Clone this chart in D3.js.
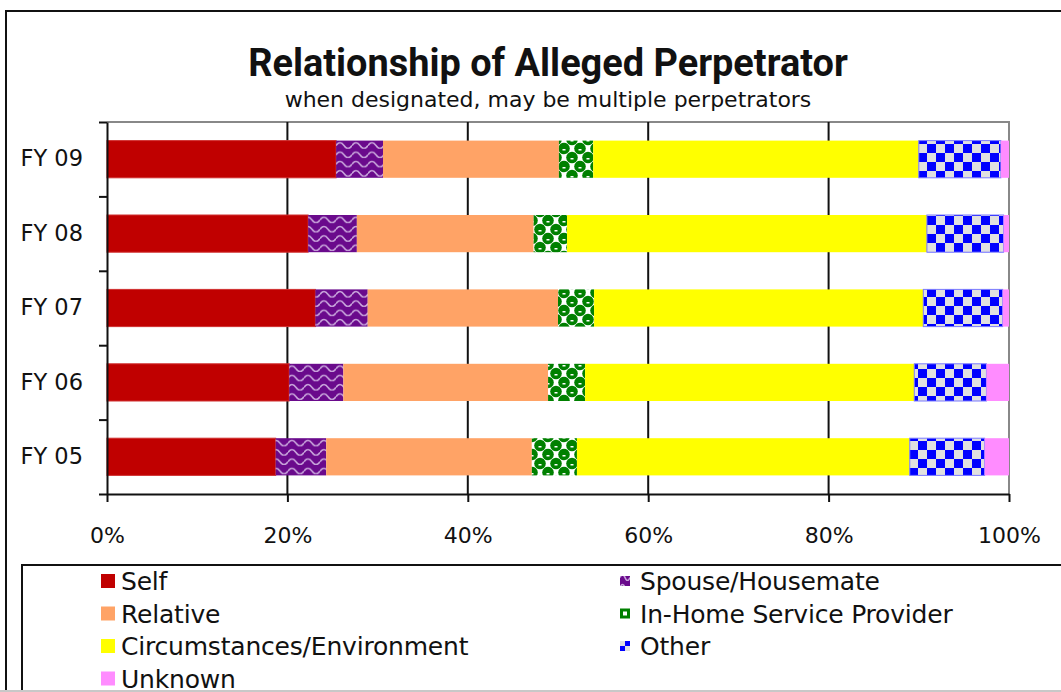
<!DOCTYPE html>
<html>
<head>
<meta charset="utf-8">
<script src="https://cdn.jsdelivr.net/npm/d3@7"></script>
<style>
  body { margin: 0; background: #fff; }
  svg { display: block; }
  text { font-family: "DejaVu Sans", sans-serif; fill: #111; }
</style>
</head>
<body>
<svg id="chart" width="1061" height="692"></svg>
<script>
'use strict';

// values in percent (top row first)
const YEARS = ['FY 09', 'FY 08', 'FY 07', 'FY 06', 'FY 05'];
const SELF = [25.4, 22.3, 23.1, 20.2, 18.7];
const SPOUSE = [5.2, 5.4, 5.8, 6.0, 5.6];
const RELATIVE = [19.5, 19.6, 21.1, 22.7, 22.8];
const IN_HOME = [3.8, 3.7, 4.0, 4.1, 5.0];
const CIRCUMSTANCES = [36.1, 39.9, 36.5, 36.5, 36.9];
const OTHER = [9.1, 8.5, 8.8, 8.0, 8.3];
const UNKNOWN = [0.9, 0.6, 0.7, 2.5, 2.7];
const SERIES = ['Self', 'Spouse/Housemate', 'Relative', 'In-Home Service Provider',
  'Circumstances/Environment', 'Other', 'Unknown'];
const X_TICKS = [0, 20, 40, 60, 80, 100];

const VALUES = [SELF, SPOUSE, RELATIVE, IN_HOME, CIRCUMSTANCES, OTHER, UNKNOWN];
const table = YEARS.map((year, i) => {
  const row = {year};
  SERIES.forEach((s, j) => row[s] = VALUES[j][i]);
  return row;
});

const svg = d3.select('#chart');
const defs = svg.append('defs');

// scale a text's font size so it spans the wanted width
function fitWidth(sel, width) {
  const size = parseFloat(sel.style('font-size'));
  const len = sel.node().getComputedTextLength();
  sel.style('font-size', (size * width / len) + 'px');
}

/***** PATTERNS *****/
function wavePattern(id, w, h) {
  const p = defs.append('pattern').attr('id', id).attr('patternUnits', 'userSpaceOnUse')
    .attr('width', w).attr('height', h);
  p.append('rect').attr('width', w).attr('height', h).attr('fill', '#6a0a8c');
  p.append('path')
    .attr('d', `M0,${h * 0.65} Q${w / 4},${h * 0.05} ${w / 2},${h * 0.65} T${w},${h * 0.65}`)
    .attr('fill', 'none').attr('stroke', '#c9a6dc').attr('stroke-width', 1.6);
}
function dotPattern(id) {
  const p = defs.append('pattern').attr('id', id).attr('patternUnits', 'userSpaceOnUse')
    .attr('width', 16).attr('height', 18);
  p.append('rect').attr('width', 16).attr('height', 18).attr('fill', '#fff');
  [[4, 4.5], [12, 13.5], [-4, 13.5], [20, 4.5], [4, 22.5], [12, -4.5]].forEach(([cx, cy]) => {
    p.append('circle').attr('cx', cx).attr('cy', cy).attr('r', 5.8).attr('fill', '#008000');
    p.append('rect').attr('x', cx - 1.5).attr('y', cy + 0.5).attr('width', 3).attr('height', 1.5)
      .attr('fill', '#fff');
  });
}
function checkPattern(id, s) {
  const p = defs.append('pattern').attr('id', id).attr('patternUnits', 'userSpaceOnUse')
    .attr('width', s * 2).attr('height', s * 2);
  p.append('rect').attr('width', s * 2).attr('height', s * 2).attr('fill', '#e0e0e0');
  p.append('rect').attr('x', s).attr('width', s).attr('height', s).attr('fill', '#0000ff');
  p.append('rect').attr('y', s).attr('width', s).attr('height', s).attr('fill', '#0000ff');
}
wavePattern('wave', 16, 9.3);
dotPattern('dots');
checkPattern('check', 9);

// small swatches for the legend
wavePattern('waveS', 10, 10);
const gs = defs.append('pattern').attr('id', 'dotsS').attr('patternUnits', 'objectBoundingBox')
  .attr('width', 1).attr('height', 1);
gs.append('rect').attr('width', 10).attr('height', 10).attr('fill', '#008000');
gs.append('rect').attr('x', 3).attr('y', 3).attr('width', 4).attr('height', 4).attr('fill', '#fff');
const cs = defs.append('pattern').attr('id', 'checkS').attr('patternUnits', 'objectBoundingBox')
  .attr('width', 1).attr('height', 1);
cs.append('rect').attr('width', 10).attr('height', 10).attr('fill', '#e0e0e0');
cs.append('rect').attr('x', 5).attr('width', 5).attr('height', 5).attr('fill', '#0000ff');
cs.append('rect').attr('y', 5).attr('width', 5).attr('height', 5).attr('fill', '#0000ff');

const FILLS = {
  'Self': '#c00000',
  'Spouse/Housemate': 'url(#wave)',
  'Relative': '#ffa366',
  'In-Home Service Provider': 'url(#dots)',
  'Circumstances/Environment': '#ffff00',
  'Other': 'url(#check)',
  'Unknown': '#ff8cff'
};
const SWATCH = Object.assign({}, FILLS, {
  'Spouse/Housemate': 'url(#waveS)',
  'In-Home Service Provider': 'url(#dotsS)',
  'Other': 'url(#checkS)'
});

/***** FRAME *****/
svg.append('rect').attr('x', 6).attr('y', 11).attr('width', 1100).attr('height', 700)
  .attr('fill', '#fff').attr('stroke', '#111').attr('stroke-width', 2);

const title = svg.append('text').attr('x', 548).attr('y', 76).attr('text-anchor', 'middle')
  .style('font-family', 'Roboto, sans-serif').style('font-weight', 'bold').style('font-size', '32px')
  .text('Relationship of Alleged Perpetrator');
fitWidth(title, 600);
const subtitle = svg.append('text').attr('x', 548).attr('y', 107).attr('text-anchor', 'middle')
  .style('font-size', '20px')
  .text('when designated, may be multiple perpetrators');
fitWidth(subtitle, 527);

/***** CHART *****/
const M = {left: 107, right: 1009, top: 122, bottom: 494};
const x = d3.scaleLinear().domain([0, 100]).range([M.left, M.right]);
const y = d3.scaleBand().domain(YEARS).range([M.top, M.bottom]).paddingInner(0.5).paddingOuter(0.25);
const yEdge = d3.scaleLinear().domain([0, YEARS.length]).range([M.top, M.bottom]);

// plot area border (top, right)
svg.append('path')
  .attr('d', `M${M.left},${M.top}H${M.right}V${M.bottom}`)
  .attr('fill', 'none').attr('stroke', '#888').attr('stroke-width', 2);

// gridlines
svg.append('g').selectAll('line').data(X_TICKS.slice(1, -1)).join('line')
  .attr('x1', d => x(d)).attr('x2', d => x(d))
  .attr('y1', M.top).attr('y2', M.bottom)
  .attr('stroke', '#111').attr('stroke-width', 2);

const stack = d3.stack().keys(SERIES)(table);
svg.append('g').selectAll('g').data(stack).join('g')
  .attr('fill', d => FILLS[d.key])
  .attr('stroke', d => d.key === 'Other' ? '#7a7aff' : d.key === 'Self' ? '#d03030' : 'none')
  .attr('stroke-width', 1)
  .selectAll('rect').data(d => d).join('rect')
  .attr('x', d => x(d[0]))
  .attr('y', d => y(d.data.year))
  .attr('width', d => x(d[1]) - x(d[0]))
  .attr('height', y.bandwidth());

// x axis
const xAxis = svg.append('g').attr('transform', `translate(0,${M.bottom})`)
  .call(d3.axisBottom(x).tickValues(X_TICKS).tickFormat(d => d + '%').tickSize(8).tickPadding(25).tickSizeOuter(0));
xAxis.select('.domain').attr('stroke', '#111').attr('stroke-width', 2);
xAxis.selectAll('line').attr('stroke', '#111').attr('stroke-width', 2);
xAxis.selectAll('text').style('font-size', '22px').style('font-family', '"DejaVu Sans", sans-serif').attr('fill', '#111');

// y axis: ticks on category edges, labels in band centers
const yTicks = svg.append('g').attr('transform', `translate(${M.left},0)`)
  .call(d3.axisLeft(yEdge).ticks(YEARS.length).tickSize(8).tickFormat('').tickSizeOuter(0));
yTicks.select('.domain').attr('stroke', '#111').attr('stroke-width', 2);
yTicks.selectAll('line').attr('stroke', '#111').attr('stroke-width', 2);

const yLabels = svg.append('g').attr('transform', `translate(${M.left},0)`)
  .call(d3.axisLeft(y).tickSize(0).tickPadding(24));
yLabels.select('.domain').remove();
yLabels.selectAll('text').style('font-size', '22.5px').style('font-family', '"DejaVu Sans", sans-serif').attr('fill', '#111');

/***** LEGEND *****/
svg.append('rect').attr('x', 22).attr('y', 565).attr('width', 1100).attr('height', 126)
  .attr('fill', '#fff').attr('stroke', '#111').attr('stroke-width', 2);
svg.append('line').attr('x1', 0).attr('x2', 1061).attr('y1', 691).attr('y2', 691)
  .attr('stroke', '#c8c8c8').attr('stroke-width', 2);

const legend = svg.append('g').selectAll('g').data(SERIES).join('g')
  .attr('transform', (d, i) => `translate(${i % 2 ? 620 : 101},${581 + Math.floor(i / 2) * 32.5})`);
legend.append('rect')
  .attr('y', (d, i) => i % 2 ? -5 : -7)
  .attr('width', (d, i) => i % 2 ? 10 : 14)
  .attr('height', (d, i) => i % 2 ? 10 : 14)
  .attr('fill', d => SWATCH[d]);
legend.append('text')
  .attr('x', 20)
  .attr('dy', '0.36em')
  .style('font-size', '25px')
  .style('letter-spacing', '-0.2px')
  .text(d => d);
</script>
</body>
</html>
